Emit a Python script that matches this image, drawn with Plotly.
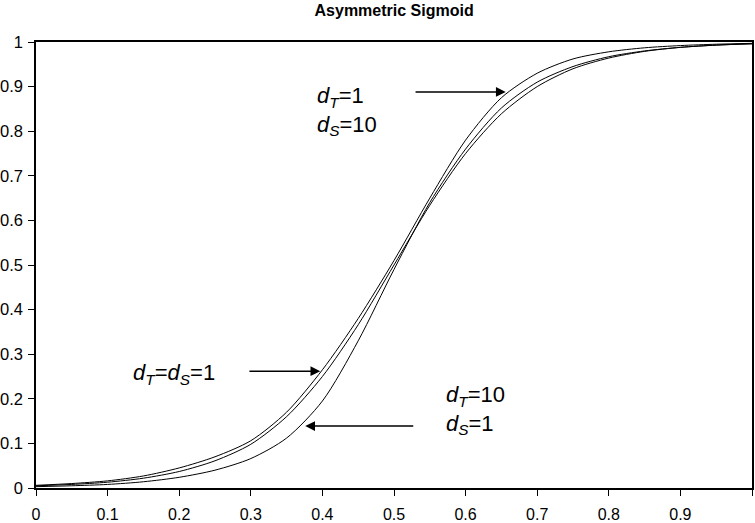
import plotly.graph_objects as go

# values
x_vals = [0, 0.05, 0.1, 0.15, 0.2, 0.25, 0.3, 0.35, 0.4, 0.45, 0.5,
          0.55, 0.6, 0.65, 0.7, 0.75, 0.8, 0.85, 0.9, 0.95, 1]
sym = [0.005, 0.008, 0.013, 0.022, 0.037, 0.061, 0.098, 0.16, 0.25, 0.366, 0.5,
       0.634, 0.75, 0.839, 0.9, 0.94, 0.964, 0.979, 0.988, 0.993, 0.996]
dt1_ds10 = [0.006, 0.01, 0.016, 0.027, 0.045, 0.07, 0.106, 0.17, 0.265, 0.38, 0.51,
            0.65, 0.78, 0.875, 0.93, 0.962, 0.978, 0.987, 0.992, 0.995, 0.997]
dt10_ds1 = [0.003, 0.005, 0.008, 0.014, 0.024, 0.04, 0.066, 0.112, 0.195, 0.33, 0.49,
            0.64, 0.76, 0.852, 0.91, 0.945, 0.967, 0.98, 0.988, 0.993, 0.996]
x_ticks = [0, 0.1, 0.2, 0.3, 0.4, 0.5, 0.6, 0.7, 0.8, 0.9, 1]
tick_text = ['0', '0.1', '0.2', '0.3', '0.4', '0.5', '0.6', '0.7', '0.8', '0.9', '1']

font = 'Arial, Liberation Sans, sans-serif'

fig = go.Figure()
for ys in [sym, dt1_ds10, dt10_ds1]:
    fig.add_trace(go.Scatter(x=x_vals, y=ys, mode='lines',
                             line=dict(color='black', width=1, shape='spline', smoothing=0.8),
                             showlegend=False, hoverinfo='skip'))

# arrows (tail -> head)
arrows = [((0.528, 0.888), (0.656, 0.888)),
          ((0.296, 0.262), (0.397, 0.262)),
          ((0.529, 0.139), (0.376, 0.139))]
for (tx, ty), (hx, hy) in arrows:
    fig.add_annotation(x=hx, y=hy, ax=tx, ay=ty, xref='x', yref='y', axref='x', ayref='y',
                       text='', showarrow=True, arrowhead=2, arrowsize=1.3,
                       arrowwidth=1.5, arrowcolor='black', standoff=0)

labels = [
    ('<i>d<sub>T</sub></i>=1<br><i>d<sub>S</sub></i>=10', 0.39, 0.845),
    ('<i>d<sub>T</sub></i>=<i>d<sub>S</sub></i>=1', 0.133, 0.256),
    ('<i>d<sub>T</sub></i>=10<br><i>d<sub>S</sub></i>=1', 0.57, 0.175),
]
for txt, lx, ly in labels:
    fig.add_annotation(x=lx, y=ly, xref='x', yref='y', text=txt, showarrow=False,
                       xanchor='left', yanchor='middle', align='left',
                       font=dict(family=font, size=22, color='black'))

fig.update_layout(
    width=755, height=523,
    margin=dict(l=36, r=3, t=42, b=35),
    plot_bgcolor='white', paper_bgcolor='white',
    title=dict(text='<b>Asymmetric Sigmoid</b>', x=0.522, xanchor='center',
               y=0.99, yanchor='top', font=dict(family=font, size=16, color='black')),
    font=dict(family=font, size=16, color='black'),
    xaxis=dict(range=[0, 1], tickvals=x_ticks, ticktext=tick_text, showgrid=False,
               zeroline=False, showline=True, linecolor='black', linewidth=1.5,
               mirror=True, ticks='outside', ticklen=6, tickcolor='black',
               tickfont=dict(size=16), ticklabelstandoff=5, automargin=False),
    yaxis=dict(range=[0, 1], tickvals=x_ticks, ticktext=tick_text, showgrid=False,
               zeroline=False, showline=True, linecolor='black', linewidth=1.5,
               mirror=True, ticks='outside', ticklen=6, tickcolor='black',
               tickfont=dict(size=16.5), ticklabelstandoff=2, automargin=False),
)

fig.write_html('out.html', config={'displayModeBar': False},
               post_script="document.body.style.margin='0';")
